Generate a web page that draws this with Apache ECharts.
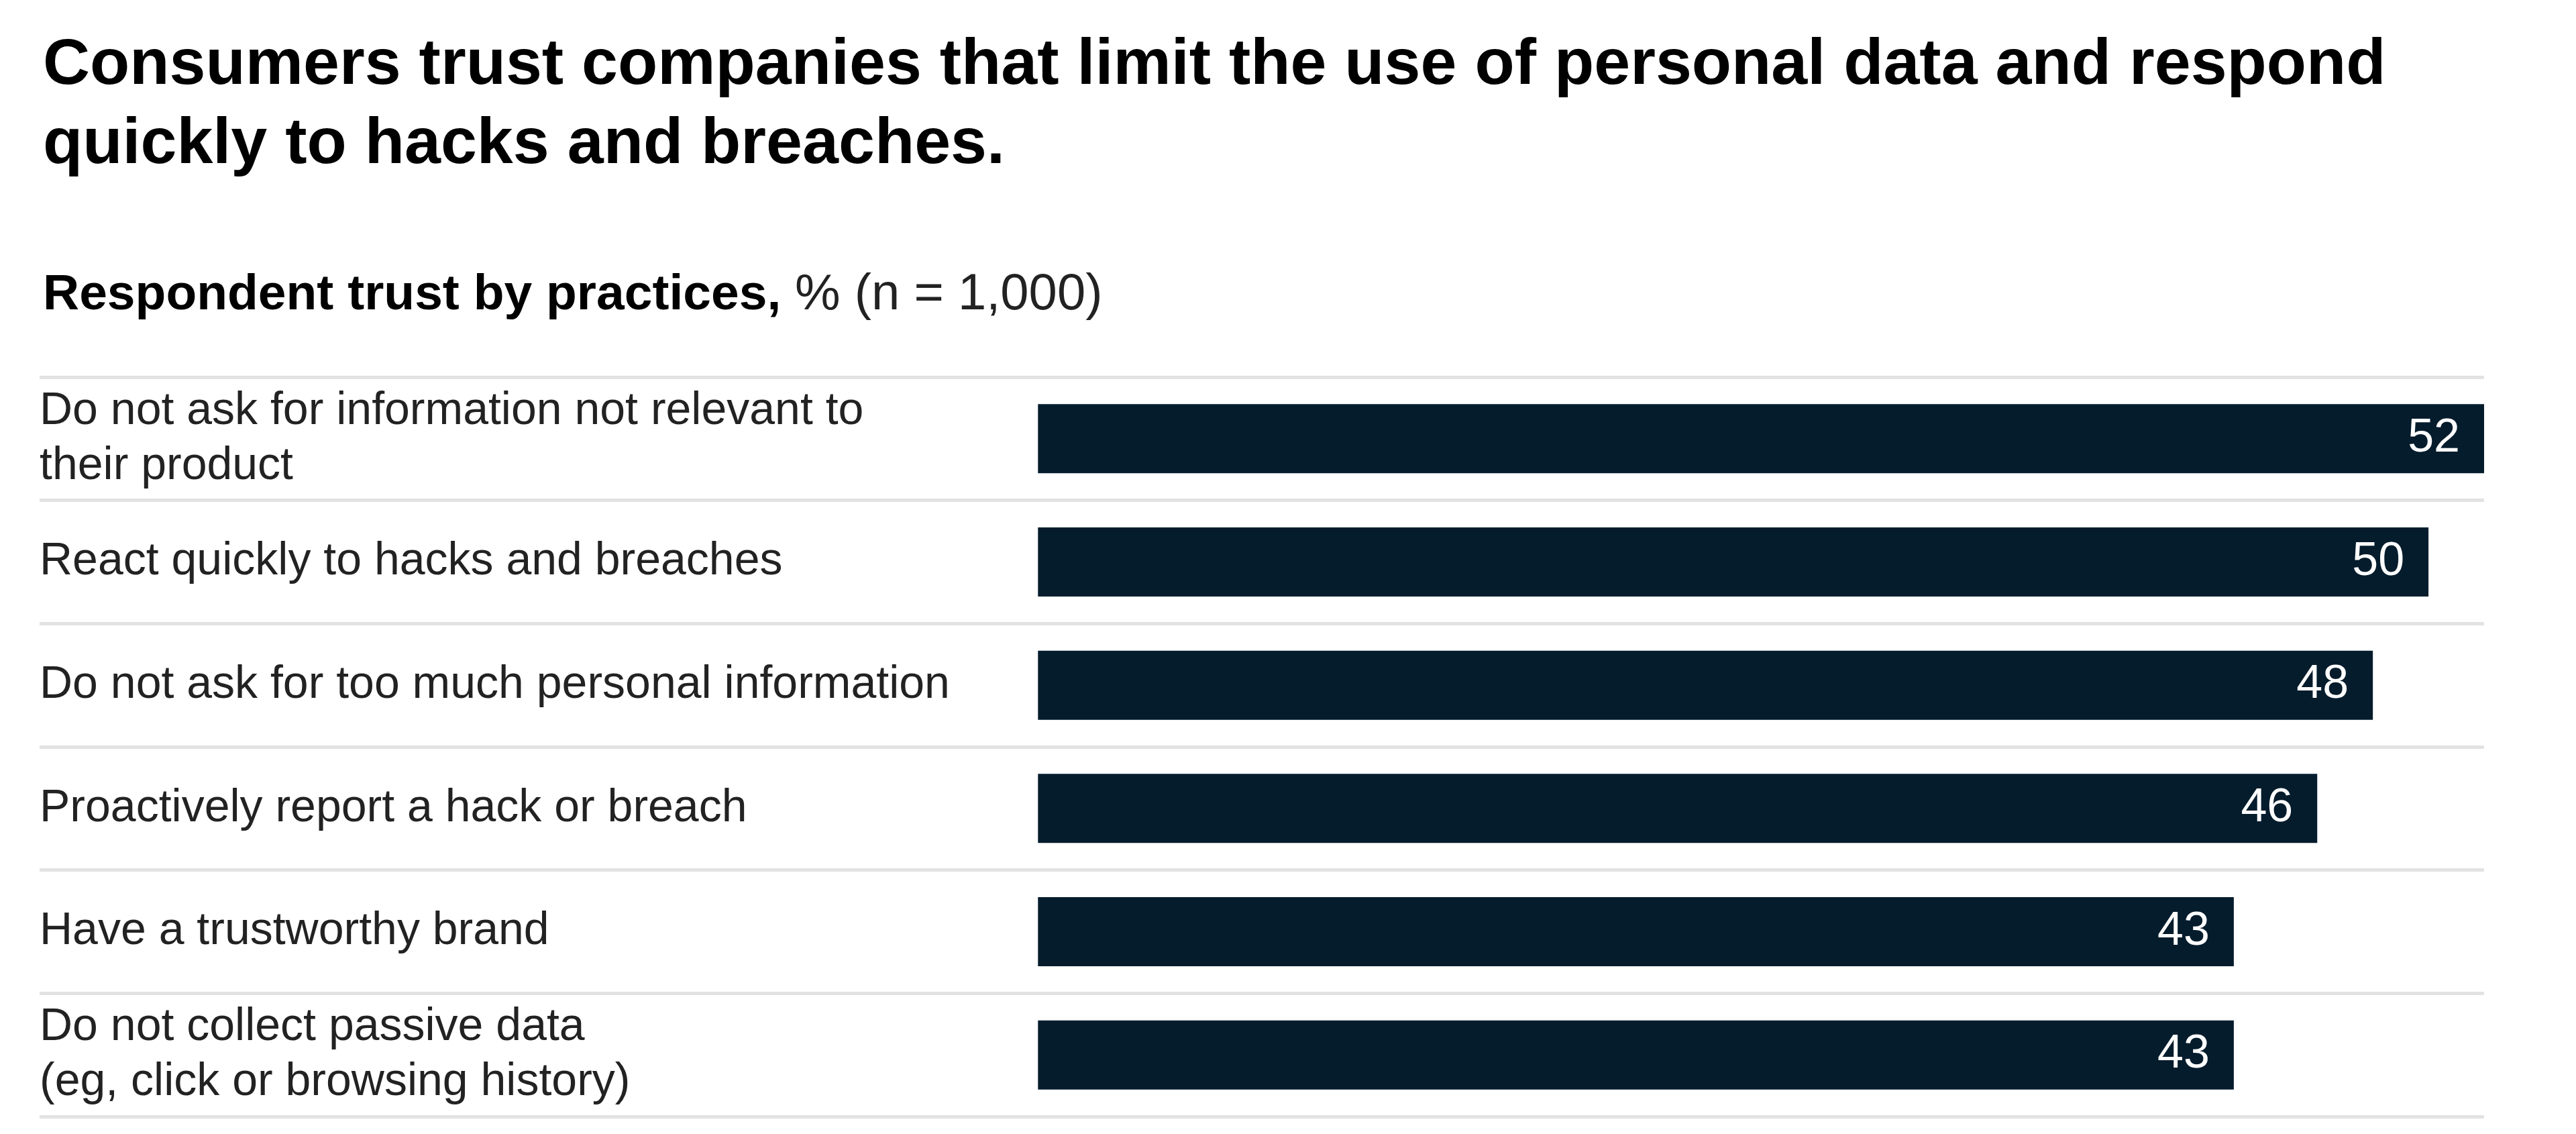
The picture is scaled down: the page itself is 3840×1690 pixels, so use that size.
<!DOCTYPE html>
<html>
<head>
<meta charset="utf-8">
<script src="https://cdn.jsdelivr.net/npm/echarts@6/dist/echarts.min.js"></script>
<style>
html,body{margin:0;padding:0;background:#fff;}
#chart{width:3840px;height:1690px;}
</style>
</head>
<body>
<div id="chart"></div>
<script>
const titleText = 'Consumers trust companies that limit the use of personal data and respond\nquickly to hacks and breaches.';
const subtitleBold = 'Respondent trust by practices,';
const subtitleRest = '% (n = 1,000)';
const categories = [
  'Do not ask for information not relevant to\ntheir product',
  'React quickly to hacks and breaches',
  'Do not ask for too much personal information',
  'Proactively report a hack or breach',
  'Have a trustworthy brand',
  'Do not collect passive data\n(eg, click or browsing history)'
];
const values = [52, 50, 48, 46, 43, 43];

const FONT = 'Liberation Sans';
const chart = echarts.init(document.getElementById('chart'));
chart.setOption({
  backgroundColor: '#ffffff',
  animation: false,
  title: [
    {
      text: titleText,
      left: 59,
      top: 34,
      textStyle: {fontFamily: FONT, fontSize: 97, fontWeight: 'bold', color: '#000', lineHeight: 118}
    },
    {
      text: '{b|' + subtitleBold + '\u00a0}{r|' + subtitleRest + '}',
      left: 59,
      top: 390,
      textStyle: {
        rich: {
          b: {fontFamily: FONT, fontSize: 75, fontWeight: 'bold', color: '#000', lineHeight: 90},
          r: {fontFamily: FONT, fontSize: 76, fontWeight: 'normal', color: '#222', lineHeight: 90}
        }
      }
    }
  ],
  grid: {left: 59, right: 137, top: 562, bottom: 26, containLabel: false},
  xAxis: {
    type: 'value',
    min: -35.9,
    max: 52,
    show: false
  },
  yAxis: {
    type: 'category',
    data: categories,
    inverse: true,
    axisLine: {show: false},
    axisTick: {show: false},
    splitLine: {show: true, lineStyle: {color: '#e2e2e2', width: 5}},
    axisLabel: {
      inside: true,
      margin: 0,
      align: 'left',
      fontFamily: FONT,
      fontSize: 68,
      lineHeight: 82,
      color: '#222'
    }
  },
  series: [{
    type: 'bar',
    data: values,
    barWidth: 103,
    itemStyle: {color: '#051c2c'},
    label: {
      show: true,
      position: 'insideRight',
      distance: 36,
      fontFamily: FONT,
      fontSize: 70,
      color: '#ffffff'
    }
  }]
});
</script>
</body>
</html>
